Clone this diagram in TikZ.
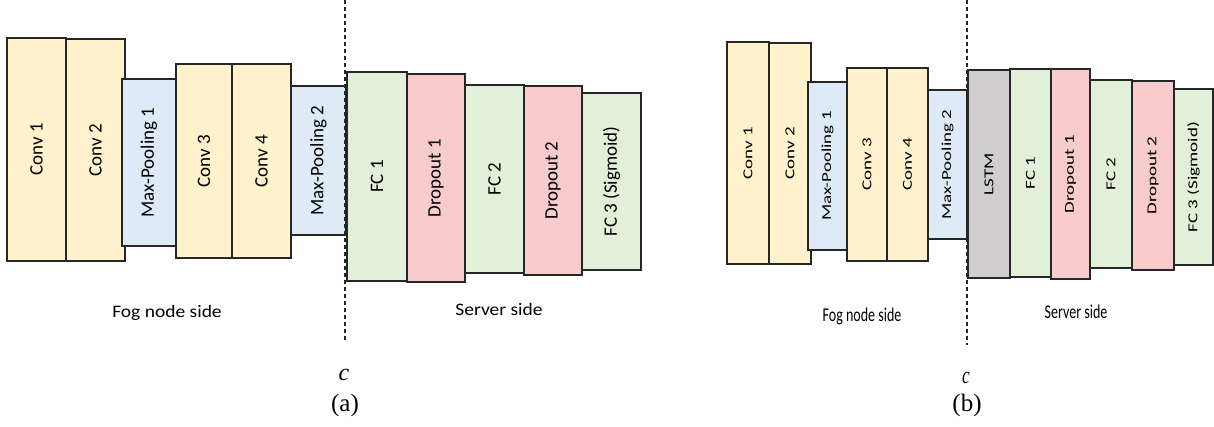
\documentclass[tikz,border=0pt]{standalone}
\usepackage{graphicx}
\usepackage{fontspec}
\setmainfont{Carlito}
\newfontfamily\capfont{Liberation Serif}

\definecolor{convY}{HTML}{FFF2CC}
\definecolor{poolB}{HTML}{DEEBF7}
\definecolor{fcG}{HTML}{E2F0D9}
\definecolor{dropR}{HTML}{F8CBCD}
\definecolor{lstmG}{HTML}{CFCDCD}
\definecolor{edgeC}{HTML}{262626}

\tikzset{
  layer/.style={rectangle, draw=edgeC, line width=1.7pt, inner sep=0pt, outer sep=0pt,
                font=\fontsize{19}{22}\selectfont},
  conv/.style={layer, fill=convY},
  pool/.style={layer, fill=poolB},
  fc/.style={layer, fill=fcG},
  drop/.style={layer, fill=dropR},
  lstm/.style={layer, fill=lstmG},
  cutline/.style={draw=edgeC, line width=1.3pt, dash pattern=on 4pt off 3pt},
  sidelabel/.style={inner sep=0pt, anchor=base, font=\fontsize{19.5}{22}\selectfont},
  cutlabel/.style={inner sep=0pt, font=\fontsize{24}{28}\selectfont\capfont\itshape},
  sublabel/.style={inner sep=0pt, font=\fontsize{25}{28}\selectfont\capfont},
}

% name, style, x1, y1, x2, y2, text (rotated)
\newcommand\layerblock[7]{%
  \node[#2, minimum width={#5pt-#3pt}, minimum height={#6pt-#4pt}]
    (#1) at ({(#3+#5)/2},{(#4+#6)/2}) {\rotatebox{90}{#7}};}
% lettering proportions of the two panels
\newcommand\narrowV[1]{\scalebox{1}[0.72]{#1}}
\newcommand\narrowH[1]{\scalebox{0.72}[1]{#1}}
\newcommand\flatH[1]{\scalebox{1}[0.9]{#1}}

\begin{document}
\begin{tikzpicture}[x=1pt,y=-1pt]
\useasboundingbox (0,0) rectangle (1214,427);

% ---------- (a) CNN split ----------
\layerblock{aC1}{conv}{7}{38}{66}{261}{Conv 1}
\layerblock{aC2}{conv}{66}{39}{125}{261}{Conv 2}
\layerblock{aP1}{pool}{122}{79}{176}{246}{Max-Pooling 1}
\layerblock{aC3}{conv}{176}{64}{232}{258}{Conv 3}
\layerblock{aC4}{conv}{232}{64}{291}{258}{Conv 4}
\layerblock{aP2}{pool}{291}{86}{346}{235}{Max-Pooling 2}
\layerblock{aF1}{fc}{347}{72}{407}{281}{FC 1}
\layerblock{aD1}{drop}{407}{74}{465}{282}{Dropout 1}
\layerblock{aF2}{fc}{465}{85}{524}{273}{FC 2}
\layerblock{aD2}{drop}{524}{86}{582}{275}{Dropout 2}
\layerblock{aF3}{fc}{582}{93}{641}{270}{FC 3 (Sigmoid)}

\coordinate (aCutTop) at (345,0);
\coordinate (aCutBot) at (345,342);
\draw[cutline] (aCutTop) -- (aCutBot);

\node[sidelabel] (aFog) at (167,317) {\flatH{Fog node side}};
\node[sidelabel] (aSrv) at (499,316) {\flatH{Server side}};
\node[cutlabel] (aCut) at (344,375) {c};
\node[sublabel] (aSub) at (345,405) {(a)};

% ---------- (b) CNN-LSTM split ----------
\layerblock{bC1}{conv}{727}{42}{769}{264}{\narrowV{Conv 1}}
\layerblock{bC2}{conv}{769}{43}{811}{264}{\narrowV{Conv 2}}
\layerblock{bP1}{pool}{808}{82}{847}{250}{\narrowV{Max-Pooling 1}}
\layerblock{bC3}{conv}{847}{68}{887}{261}{\narrowV{Conv 3}}
\layerblock{bC4}{conv}{887}{68}{928}{261}{\narrowV{Conv 4}}
\layerblock{bP2}{pool}{928}{90}{967}{239}{\narrowV{Max-Pooling 2}}
\layerblock{bL}{lstm}{968}{70}{1010}{278}{\narrowV{LSTM}}
\layerblock{bF1}{fc}{1010}{69}{1051}{277}{\narrowV{FC 1}}
\layerblock{bD1}{drop}{1051}{69}{1090}{279}{\narrowV{Dropout 1}}
\layerblock{bF2}{fc}{1090}{80}{1132}{268}{\narrowV{FC 2}}
\layerblock{bD2}{drop}{1132}{81}{1174}{270}{\narrowV{Dropout 2}}
\layerblock{bF3}{fc}{1174}{89}{1213}{265}{\narrowV{FC 3 (Sigmoid)}}

\coordinate (bCutTop) at (967,0);
\coordinate (bCutBot) at (967,345);
\draw[cutline] (bCutTop) -- (bCutBot);

\node[sidelabel] (bFog) at (862,321) {\narrowH{Fog node side}};
\node[sidelabel] (bSrv) at (1076,319) {\narrowH{Server side}};
\node[cutlabel] (bCut) at (966,378) {\narrowH{c}};
\node[sublabel] (bSub) at (967,405) {(b)};
\end{tikzpicture}
\end{document}
